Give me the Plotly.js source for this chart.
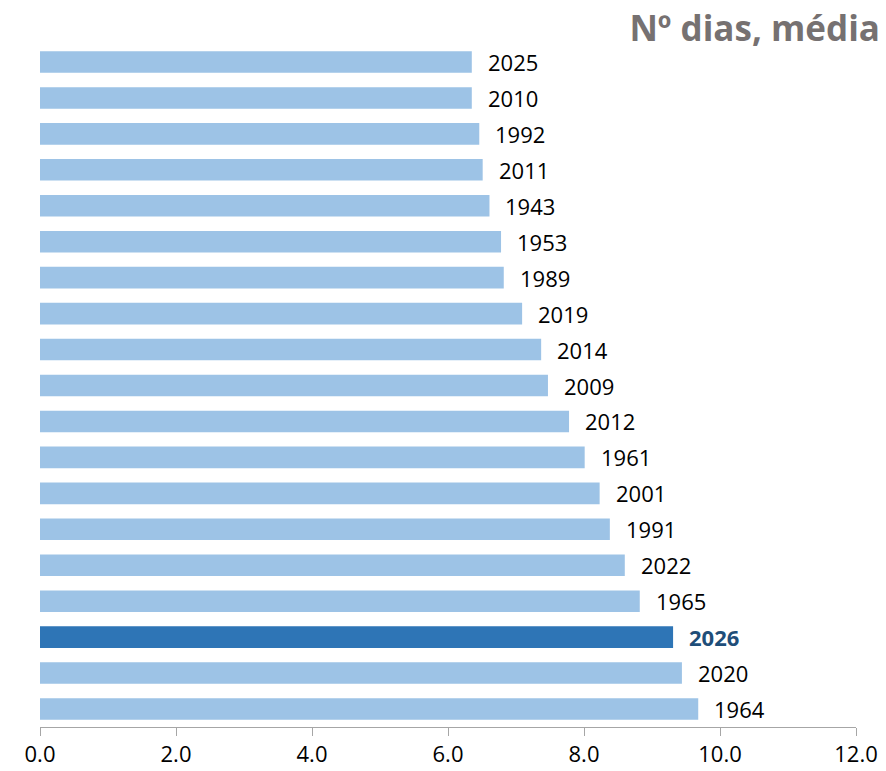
<!DOCTYPE html>
<html>
<head>
<meta charset="utf-8">
<script src="https://cdn.plot.ly/plotly-3.0.1.min.js"></script>
<style>html,body{margin:0;padding:0;background:#fff;}#chart{width:886px;height:771px;}</style>
</head>
<body>
<div id="chart"></div>
<script>
var years = ["2025","2010","1992","2011","1943","1953","1989","2019","2014","2009","2012","1961","2001","1991","2022","1965","2026","2020","1964"];
var values = [6.35,6.35,6.46,6.51,6.61,6.78,6.82,7.09,7.37,7.47,7.78,8.01,8.23,8.38,8.60,8.82,9.31,9.44,9.68];
var highlightYear = "2026";
var tickVals = [0,2,4,6,8,10,12];
var tickText = ["0.0","2.0","4.0","6.0","8.0","10.0","12.0"];
var titleText = "Nº dias, média";

var colors = years.map(function(y){ return y === highlightYear ? "#2E75B6" : "#9DC3E6"; });

var trace = {
  type: "bar",
  orientation: "h",
  x: values,
  y: years,
  width: 0.6,
  marker: {color: colors, line: {width: 0}},
  hoverinfo: "x+y"
};

var annotations = years.map(function(y, i){
  var hl = y === highlightYear;
  return {
    x: values[i], y: i, xref: "x", yref: "y",
    text: hl ? "<b>" + y + "</b>" : y,
    showarrow: false, xanchor: "left", yanchor: "middle", xshift: 14,
    font: {family: "Open Sans, sans-serif", size: 22, color: hl ? "#1F4E79" : "#000000"}
  };
});

var layout = {
  width: 886, height: 771,
  margin: {l: 40, r: 30, t: 44, b: 44},
  paper_bgcolor: "#ffffff", plot_bgcolor: "#ffffff",
  showlegend: false,
  bargap: 0.4,
  title: {
    text: "<b>" + titleText + "</b>",
    xref: "container", yref: "container",
    x: 880/886, xanchor: "right",
    y: 1 - 29/771, yanchor: "middle",
    font: {family: "Open Sans, sans-serif", size: 35, color: "#767171"}
  },
  xaxis: {
    range: [0, 12], tickvals: tickVals, ticktext: tickText,
    showgrid: false, zeroline: false,
    showline: true, linecolor: "#A6A6A6", linewidth: 1,
    ticks: "outside", ticklen: 8, tickcolor: "#A6A6A6", tickwidth: 1,
    tickfont: {family: "Open Sans, sans-serif", size: 22, color: "#000000"},
    fixedrange: true
  },
  yaxis: {
    type: "category", range: [years.length - 0.5, -0.5], autorange: false,
    showticklabels: false, showgrid: false, zeroline: false, showline: false, ticks: "",
    fixedrange: true
  },
  annotations: annotations
};

Plotly.newPlot("chart", [trace], layout, {displayModeBar: false, staticPlot: true});
</script>
</body>
</html>
